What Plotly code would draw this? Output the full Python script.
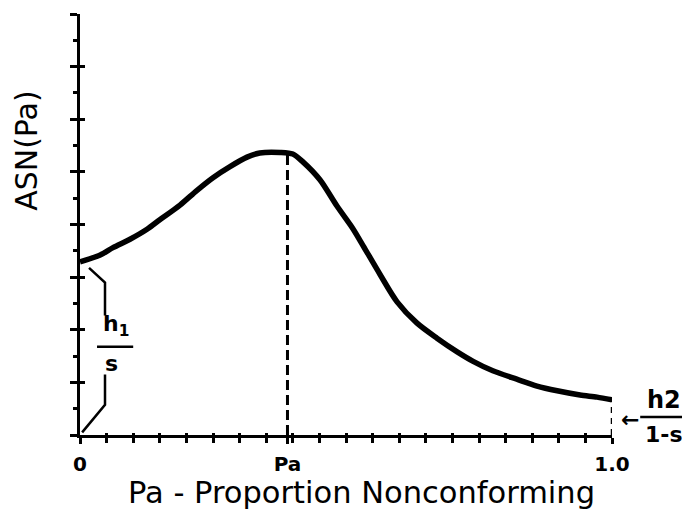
import plotly.graph_objects as go

# Proportion nonconforming (fraction of the 0..1 axis) and ASN values (axis units 0..8)
p_values = [0.000, 0.038, 0.062, 0.094, 0.126, 0.150, 0.188, 0.220, 0.250, 0.282,
            0.314, 0.338, 0.376, 0.400, 0.419, 0.451, 0.483, 0.513, 0.532, 0.564,
            0.596, 0.633, 0.671, 0.709, 0.739, 0.776, 0.821, 0.859, 0.897, 0.940,
            0.972, 1.000]
asn_values = [3.29, 3.42, 3.56, 3.72, 3.91, 4.09, 4.37, 4.65, 4.89, 5.10,
              5.28, 5.36, 5.37, 5.34, 5.19, 4.85, 4.35, 3.92, 3.60, 3.05,
              2.53, 2.13, 1.84, 1.58, 1.40, 1.22, 1.06, 0.93, 0.84, 0.76,
              0.72, 0.67]
pa_peak = 0.39
x_tick_vals = [0, pa_peak, 1.0]
x_tick_text = ["0", "Pa", "1.0"]

BLACK = "black"
FONT = "DejaVu Sans"

asn_peak = max(asn_values)
asn_start = asn_values[0]
asn_end = asn_values[-1]

fig = go.Figure()

# main curve
fig.add_trace(go.Scatter(x=p_values, y=asn_values, mode="lines",
                         line=dict(color=BLACK, width=5.5, shape="spline", smoothing=0.8),
                         hoverinfo="skip", showlegend=False))
# dashed drop line at Pa
fig.add_trace(go.Scatter(x=[pa_peak, pa_peak], y=[0, asn_peak], mode="lines",
                         line=dict(color=BLACK, width=3, dash="10px,5px"),
                         hoverinfo="skip", showlegend=False))
# dashed drop line at 1.0
fig.add_trace(go.Scatter(x=[1.0, 1.0], y=[0, asn_end], mode="lines",
                         line=dict(color=BLACK, width=2.5, dash="6px,5px"),
                         hoverinfo="skip", showlegend=False))
# brace for h1/s (from curve start down to origin)
fig.add_trace(go.Scatter(x=[0.017, 0.047, 0.047], y=[asn_start * 0.965, asn_start * 0.88, asn_start * 0.69],
                         mode="lines", line=dict(color=BLACK, width=2.5),
                         hoverinfo="skip", showlegend=False))
fig.add_trace(go.Scatter(x=[0.047, 0.047, 0.004], y=[asn_start * 0.35, asn_start * 0.175, asn_start * 0.015],
                         mode="lines", line=dict(color=BLACK, width=2.5),
                         hoverinfo="skip", showlegend=False))
# invisible trace to create the overlaying axes (inner half of ticks)
fig.add_trace(go.Scatter(x=[0], y=[0], xaxis="x2", yaxis="y2", mode="markers",
                         marker=dict(opacity=0), hoverinfo="skip", showlegend=False))

# the page body adds an 8px offset, so the figure is 8px smaller and margins shifted
fig.update_layout(
    width=682, height=510,
    margin=dict(l=72, r=78, t=6, b=83),
    paper_bgcolor="white", plot_bgcolor="white",
    showlegend=False,
    xaxis=dict(range=[0, 1], showline=True, linecolor=BLACK, linewidth=3,
               showgrid=False, zeroline=False,
               tickmode="array", tickvals=x_tick_vals, ticktext=x_tick_text,
               ticks="outside", ticklen=6, tickwidth=2.5, tickcolor=BLACK,
               minor=dict(tickmode="linear", tick0=0, dtick=0.05, ticks="outside",
                          ticklen=5, tickwidth=2.5, tickcolor=BLACK),
               tickfont=dict(family=FONT, size=20, color=BLACK, weight="bold"),
               ticklabelstandoff=3),
    yaxis=dict(range=[0, 8], showline=True, linecolor=BLACK, linewidth=3,
               showgrid=False, zeroline=False,
               tickmode="linear", tick0=0, dtick=1,
               ticks="outside", ticklen=7, tickwidth=2.5, tickcolor=BLACK,
               minor=dict(tickmode="linear", tick0=0.5, dtick=1, ticks="outside",
                          ticklen=4, tickwidth=2.5, tickcolor=BLACK),
               showticklabels=False),
    xaxis2=dict(range=[0, 1], overlaying="x", side="bottom", showline=False,
                showgrid=False, zeroline=False, tickmode="linear", tick0=0, dtick=0.05,
                ticks="inside", ticklen=2, tickwidth=2.5, tickcolor=BLACK,
                showticklabels=False),
    yaxis2=dict(range=[0, 8], overlaying="y", side="left", showline=False,
                showgrid=False, zeroline=False, tickmode="linear", tick0=0, dtick=1,
                ticks="inside", ticklen=5, tickwidth=2.5, tickcolor=BLACK,
                showticklabels=False),
)

# axis titles
fig.add_annotation(text="Pa - Proportion Nonconforming", xref="paper", yref="paper",
                   x=0.53, y=-0.137, xanchor="center", yanchor="middle", showarrow=False,
                   font=dict(family=FONT, size=30.5, color=BLACK))
fig.add_annotation(text="ASN(Pa)", xref="paper", yref="paper",
                   x=-0.0996, y=0.675, xanchor="center", yanchor="middle", showarrow=False,
                   textangle=-90, font=dict(family=FONT, size=30, color=BLACK))

# h1/s label
fig.add_annotation(text="h<sub>1</sub>", x=0.068, y=asn_start * 0.63, xref="x", yref="y",
                   xanchor="center", yanchor="middle", showarrow=False,
                   font=dict(family=FONT, size=22, color=BLACK, weight="bold"))
fig.add_annotation(text="s", x=0.060, y=asn_start * 0.415, xref="x", yref="y",
                   xanchor="center", yanchor="middle", showarrow=False,
                   font=dict(family=FONT, size=22, color=BLACK, weight="bold"))
fig.add_shape(type="line", x0=0.032, x1=0.100, y0=asn_start * 0.51, y1=asn_start * 0.51,
              xref="x", yref="y", line=dict(color=BLACK, width=2.5))

# h2/(1-s) label
fig.add_annotation(text="←", xref="paper", yref="y", x=1.034, y=asn_end * 0.43,
                   xanchor="center", yanchor="middle", showarrow=False,
                   font=dict(family=FONT, size=22, color=BLACK, weight="bold"))
fig.add_annotation(text="h2", xref="paper", yref="y", x=1.098, y=asn_end * 0.55,
                   xanchor="center", yanchor="bottom", showarrow=False,
                   font=dict(family=FONT, size=24, color=BLACK, weight="bold"))
fig.add_annotation(text="1-s", xref="paper", yref="y", x=1.098, y=asn_end * 0.42,
                   xanchor="center", yanchor="top", showarrow=False,
                   font=dict(family=FONT, size=22, color=BLACK, weight="bold"))
fig.add_shape(type="line", x0=1.053, x1=1.143, y0=asn_end * 0.51, y1=asn_end * 0.51,
              xref="paper", yref="y", line=dict(color=BLACK, width=2.5))

fig.write_html("out.html")
